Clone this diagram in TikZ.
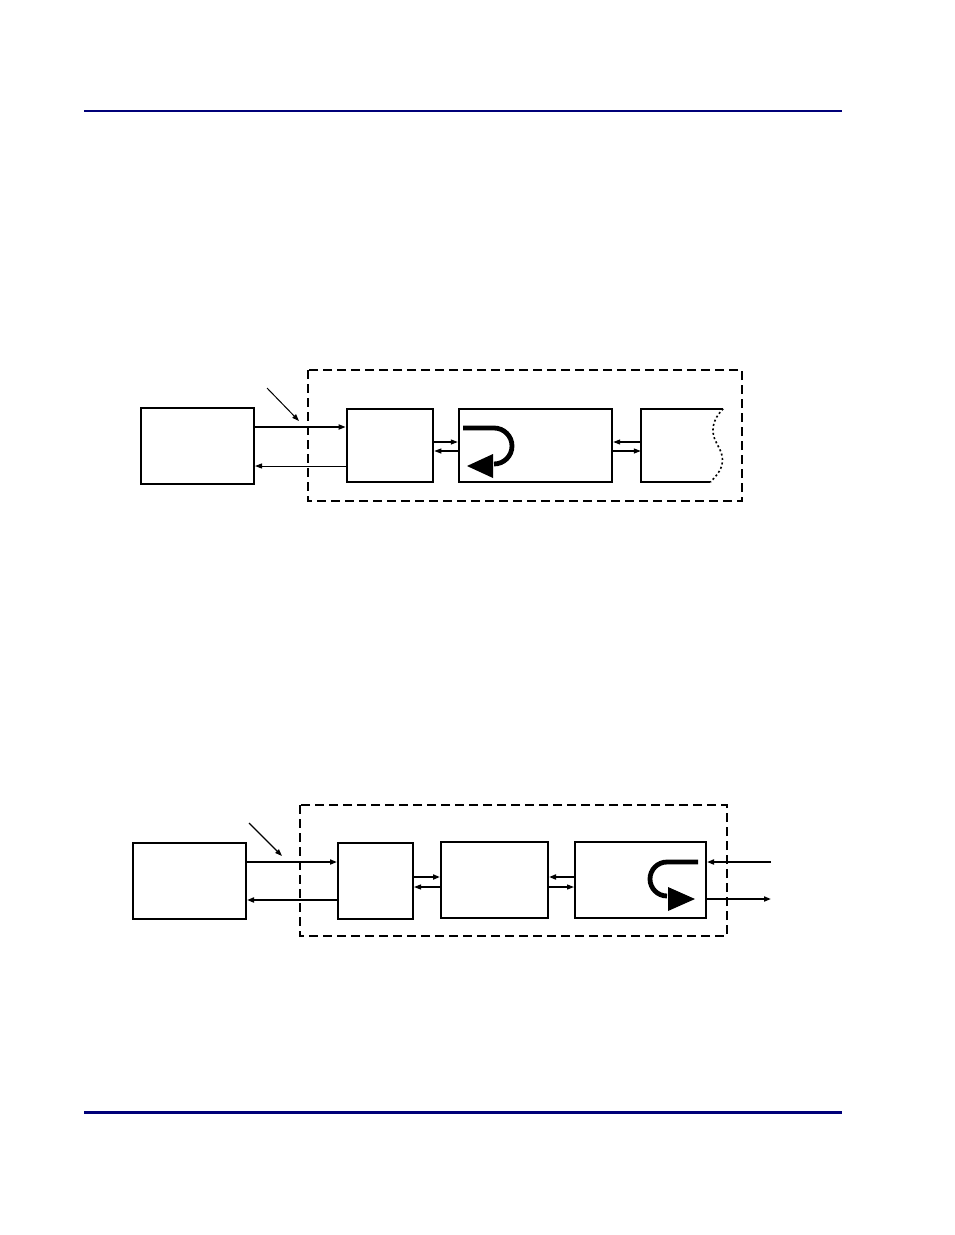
\documentclass[tikz,border=0pt]{standalone}
\usepackage{tikz}
\usetikzlibrary{arrows.meta}
\definecolor{rulenavy}{RGB}{0,0,120}

\begin{document}
\begin{tikzpicture}[x=1pt, y=-1pt,
   box/.style={draw, line width=2pt, inner sep=0pt},
   frame/.style={line width=1.7pt, dash pattern=on 9pt off 5pt},
   arr/.style={-{Triangle[length=7pt,width=5pt]}, line width=1.1pt},
   uturn/.style={line width=4.8pt}]

   \useasboundingbox (0,0) rectangle (954,1235);

   % page rules
   \draw[color=rulenavy, line width=1.2pt] (84,111) -- (842,111);
   \draw[color=rulenavy, line width=3pt] (84,1112) -- (842,1112);

   % upper diagram
   \draw[frame] (308,370) rectangle (742,501);

   \node[box, minimum width=113pt, minimum height=76pt] (host1) at (197.5,446) {};
   \node[box, line width=2.6pt, minimum width=86pt, minimum height=73pt] (ia1) at (390,445.5) {};
   \node[box, line width=2.4pt, minimum width=153pt, minimum height=73pt] (mid1) at (535.5,445.5) {};
   \node[inner sep=0pt, minimum width=82pt, minimum height=73pt] (tail1) at (682,445.5) {};

   \draw[line width=2pt] (tail1.north east) -- (tail1.north west) -- (tail1.south west) -- ([xshift=-13pt]tail1.south east);
   \draw[line width=1.6pt, dash pattern=on 2pt off 2.5pt] (tail1.north east) .. controls (712,420) and (710,432) .. (717,444)
      .. controls (724,456) and (727,466) .. ([xshift=-13pt]tail1.south east);

   \coordinate (ptr1) at (267,388);
   \draw[arr, line width=1pt] (ptr1) -- ++(32,33);

   \draw[arr, line width=1.6pt] (host1.east |- 0,427) -- (ia1.west |- 0,427);
   \draw[arr, line width=1pt] (ia1.west |- 0,466) -- (host1.east |- 0,466);

   \draw[arr] (ia1.east |- 0,442) -- (mid1.west |- 0,442);
   \draw[arr] (mid1.west |- 0,451) -- (ia1.east |- 0,451);
   \draw[arr] (tail1.west |- 0,442) -- (mid1.east |- 0,442);
   \draw[arr] (mid1.east |- 0,451) -- (tail1.west |- 0,451);

   \draw[uturn] (463,428) -- (494,428) arc[start angle=-90, end angle=90, radius=18];
   \fill (467,466) -- (493,454) -- (493,478) -- cycle;

   % lower diagram
   \draw[frame] (300,805) rectangle (727,936);

   \node[box, minimum width=113pt, minimum height=76pt] (host2) at (189.5,881) {};
   \node[box, minimum width=75pt, minimum height=76pt] (ia2) at (375.5,881) {};
   \node[box, minimum width=107pt, minimum height=76pt] (mid2) at (494.5,880) {};
   \node[box, minimum width=131pt, minimum height=76pt] (out2) at (640.5,880) {};

   \coordinate (ptr2) at (249,823);
   \draw[arr, line width=1.1pt] (ptr2) -- ++(33,33);

   \draw[arr, line width=1.7pt] (host2.east |- 0,862) -- (ia2.west |- 0,862);
   \draw[arr, line width=1.9pt] (ia2.west |- 0,900) -- (host2.east |- 0,900);

   \draw[arr, line width=1.9pt] (ia2.east |- 0,877) -- (mid2.west |- 0,877);
   \draw[arr] (mid2.west |- 0,887) -- (ia2.east |- 0,887);
   \draw[arr, line width=1.9pt] (out2.west |- 0,877) -- (mid2.east |- 0,877);
   \draw[arr] (mid2.east |- 0,887) -- (out2.west |- 0,887);

   \coordinate (ext2in) at (771,862);
   \coordinate (ext2out) at (771,899);
   \draw[arr, line width=1.7pt] (ext2in) -- (out2.east |- ext2in);
   \draw[arr, line width=1.7pt] (out2.east |- ext2out) -- (ext2out);

   \draw[uturn] (698,862) -- (667,862) arc[start angle=270, end angle=90, radius=17];
   \fill (695,899) -- (668,887) -- (668,911) -- cycle;

\end{tikzpicture}
\end{document}
